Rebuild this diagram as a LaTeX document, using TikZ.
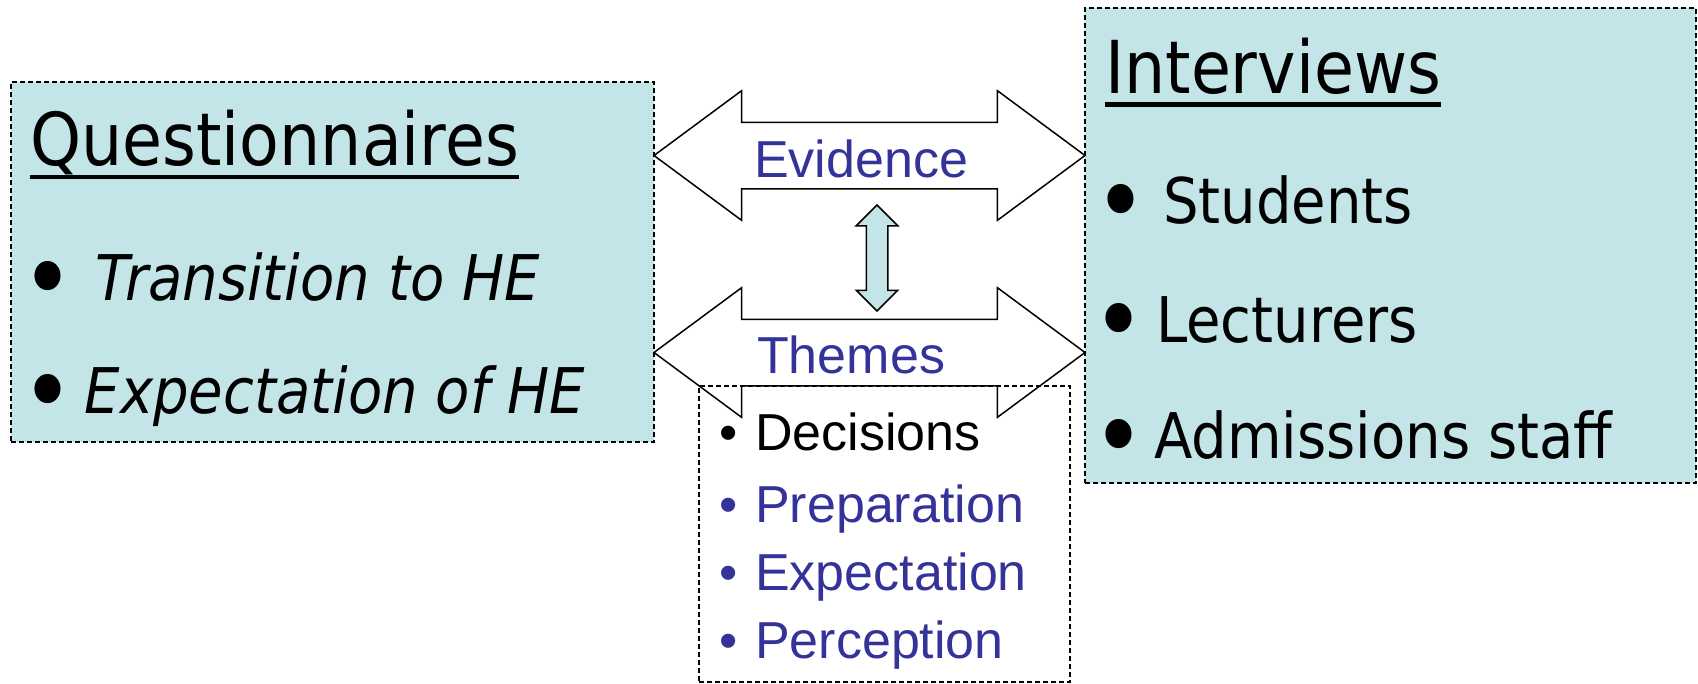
\documentclass[tikz,border=0pt]{standalone}
\usepackage{fontspec}
\setmainfont{Liberation Sans}
\newfontfamily\boxfont[FakeStretch=0.89]{DejaVu Sans}
\usepackage{tikz}
\usetikzlibrary{shapes.arrows,calc,positioning}
\definecolor{boxfill}{HTML}{C4E5E8}
\definecolor{themeblue}{HTML}{333399}
\newcommand{\bigdot}[2]{\makebox[#1][l]{\makebox[53pt][c]{\raisebox{-13pt}{\scalebox{1.6}{•}}}}#2}
\newcommand{\smalldot}[2]{\makebox[#1][l]{•}#2}

\begin{document}
\begin{tikzpicture}[x=1pt,y=-1pt]
\tikzstyle{srcbox}=[draw,dash pattern=on 5pt off 3pt,line width=1.3pt,fill=boxfill,inner sep=0pt]
\tikzstyle{listbox}=[draw,dash pattern=on 5pt off 3pt,line width=1.3pt,inner sep=0pt]
\tikzstyle{boxtitle}=[anchor=base west,inner sep=0pt,font=\boxfont\fontsize{73}{80}\selectfont]
\tikzstyle{boxitem}=[anchor=base west,inner sep=0pt,font=\boxfont\fontsize{63}{70}\selectfont]
\tikzstyle{themeitem}=[anchor=base west,inner sep=0pt,font=\fontsize{52}{60}\selectfont,text=themeblue]
\tikzstyle{bigarrow}=[draw,line width=1.5pt,double arrow,double arrow tip angle=73,double arrow head extend=31.5pt,minimum height=431pt,text height=46pt,text depth=3pt,inner ysep=8pt,inner xsep=0pt]
\useasboundingbox (0,0) rectangle (1698,683);
\node[srcbox,minimum width=643pt,minimum height=360pt] (quest) at (332.5,262) {};
\node[srcbox,minimum width=611pt,minimum height=475pt] (interv) at (1390.5,245.5) {};
\node[listbox,minimum width=371pt,minimum height=296pt] (themelist) at (884.5,534) {};
\node[boxtitle] (qtitle) at (30,165) {Questionnaires};
\draw[line width=4.5pt] ([yshift=-12pt]qtitle.base west) -- ([yshift=-12pt]qtitle.base east);
\node[boxitem] (transit) at (21,300) {\bigdot{74pt}{\itshape Transition to HE}};
\node[boxitem] (expect) at (21,413) {\bigdot{63.5pt}{\itshape Expectation of HE}};
\node[boxtitle] (ititle) at (1105,93) {Interviews};
\draw[line width=4.5pt] ([yshift=-11.5pt]ititle.base west) -- ([yshift=-11.5pt]ititle.base east);
\node[boxitem] (students) at (1094.5,223) {\bigdot{68.5pt}{Students}};
\node[boxitem] (lecturers) at (1092.5,342) {\bigdot{63.5pt}{Lecturers}};
\node[boxitem] (admissions) at (1092.5,458) {\bigdot{61.5pt}{Admissions staff}};
\node[bigarrow] (evidence) at ($(quest.east |- 0,155.5)!0.5!(interv.west |- 0,155.5)$) {};
\node[bigarrow] (themes) at ($(quest.east |- 0,352.5)!0.5!(interv.west |- 0,352.5)$) {};
\node[themeitem] (evidlabel) at (754,177) {Evidence};
\node[themeitem] (themelabel) at (757,373) {Themes};
\node[draw,line width=1.5pt,fill=boxfill,double arrow,rotate=90,double arrow tip angle=90,double arrow head extend=10pt,minimum height=106pt,inner sep=10pt] (link) at (877,258) {};
\node[themeitem,text=black] (decisions) at (719,450) {\smalldot{36pt}{Decisions}};
\node[themeitem] (preparation) at (719,522) {\smalldot{36pt}{Preparation}};
\node[themeitem] (expectation) at (719,590) {\smalldot{36pt}{Expectation}};
\node[themeitem] (perception) at (719,658) {\smalldot{36pt}{Perception}};
\end{tikzpicture}
\end{document}
